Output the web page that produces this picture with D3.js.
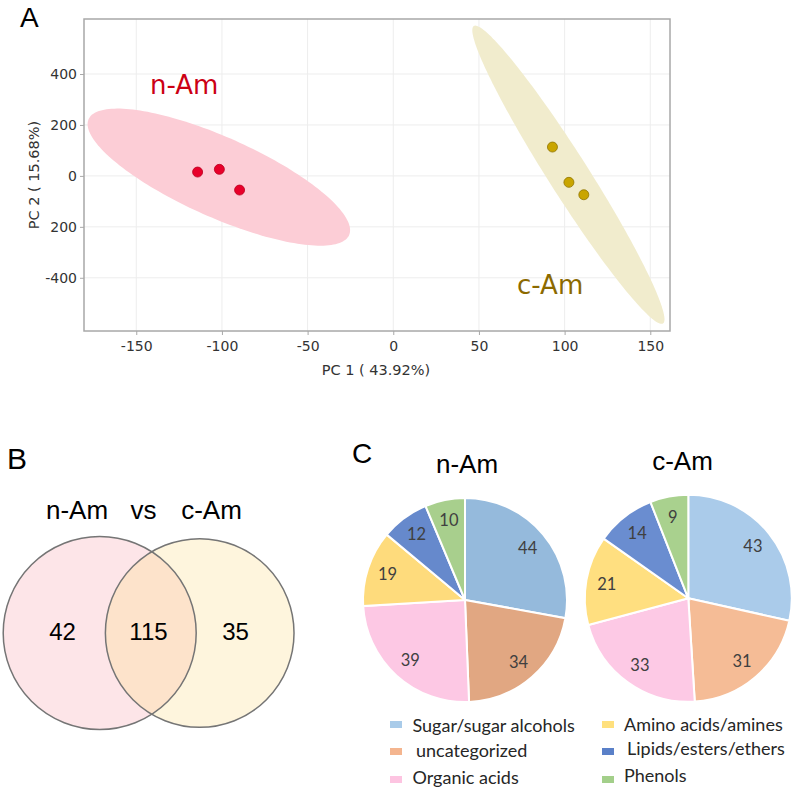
<!DOCTYPE html>
<html>
<head>
<meta charset="utf-8">
<script src="https://cdn.jsdelivr.net/npm/d3@7"></script>
<style>
  body { margin: 0; background: #fff; }
  text { white-space: pre; }
</style>
</head>
<body>
<svg id="drawing_region"></svg>
<script>
// ---- panel A: PCA scores ----
const groups = ['n-Am', 'c-Am'];
const pc1 = [[-114.2, -101.5, -89.7], [92.9, 102.5, 111.2]];
const pc2 = [[15.1, 25.7, -55.6], [113.3, -25.3, -74.0]];
// confidence ellipses: centre and two conjugate half axes (data units)
const ellCenter = [[-101.8, -4.9], [102.2, 4.5]];
const ellAxisA = [[76.0, -227.8], [55.2, -584.0]];
const ellAxisB = [[-9.5, -143.4], [-9.9, -42.0]];
const xTicks = [-150, -100, -50, 0, 50, 100, 150];
const yTicks = [-400, -200, 0, 200, 400];
const yTickLabels = ['-400', '200', '0', '200', '400'];

// ---- panel B: venn ----
const vennSets = ['n-Am', 'c-Am'];
const vennTotals = [157, 150];
const vennCounts = [42, 115, 35];

// ---- panel C: pies ----
const categories = ['Sugar/sugar alcohols', 'uncategorized', 'Organic acids',
                    'Amino acids/amines', 'Lipids/esters/ethers', 'Phenols'];
const nAmCounts = [44, 34, 39, 19, 12, 10];
const cAmCounts = [43, 31, 33, 21, 14, 9];

const width = 794;
const height = 794;

const svg = d3.select('#drawing_region')
    .attr('width', width)
    .attr('height', height);

// ================= A =================
const box = { left: 84, right: 670, top: 19, bottom: 331 };

const xscale = d3.scaleLinear()
    .domain([-180.5, 161.5])
    .range([box.left, box.right]);

const yscale = d3.scaleLinear()
    .domain([-609, 616])
    .range([box.bottom, box.top]);

const gA = svg.append('g');

// grid
gA.selectAll('.vgrid')
    .data(xTicks)
    .enter()
    .append('line')
    .attr('x1', d => xscale(d)).attr('x2', d => xscale(d))
    .attr('y1', box.top).attr('y2', box.bottom)
    .attr('stroke', '#ededed');

gA.selectAll('.hgrid')
    .data(yTicks)
    .enter()
    .append('line')
    .attr('x1', box.left).attr('x2', box.right)
    .attr('y1', d => yscale(d)).attr('y2', d => yscale(d))
    .attr('stroke', '#ededed');

// ellipses
const ellColors = ['#fccdd6', '#f1eccd'];
const ellLine = d3.line()
    .x(d => xscale(d[0]))
    .y(d => yscale(d[1]))
    .curve(d3.curveLinearClosed);

groups.forEach((g, i) => {
    const pts = d3.range(0, 360, 2).map(a => {
        const t = a * Math.PI / 180;
        return [
            ellCenter[i][0] + Math.cos(t) * ellAxisA[i][0] + Math.sin(t) * ellAxisB[i][0],
            ellCenter[i][1] + Math.cos(t) * ellAxisA[i][1] + Math.sin(t) * ellAxisB[i][1]
        ];
    });
    gA.append('path')
        .attr('d', ellLine(pts))
        .attr('fill', ellColors[i]);
});

// points
const ptFill = ['#e8002a', '#c9a500'];
const ptStroke = ['#b8001f', '#8f7500'];
groups.forEach((g, i) => {
    gA.selectAll('.pt' + i)
        .data(pc1[i].map((x, j) => [x, pc2[i][j]]))
        .enter()
        .append('circle')
        .attr('cx', d => xscale(d[0]))
        .attr('cy', d => yscale(d[1]))
        .attr('r', 5)
        .attr('fill', ptFill[i])
        .attr('stroke', ptStroke[i])
        .attr('stroke-width', 0.8);
});

// frame
gA.append('rect')
    .attr('x', box.left).attr('y', box.top)
    .attr('width', box.right - box.left)
    .attr('height', box.bottom - box.top)
    .attr('fill', 'none')
    .attr('stroke', '#a8a8a8')
    .attr('stroke-width', 1.5);

// axes
const xaxis = gA.append('g')
    .attr('transform', `translate(0, ${box.bottom})`)
    .call(d3.axisBottom(xscale).tickValues(xTicks)
        .tickFormat(d => String(d)).tickSize(4).tickPadding(6));

const yaxis = gA.append('g')
    .attr('transform', `translate(${box.left}, 0)`)
    .call(d3.axisLeft(yscale).tickValues(yTicks)
        .tickFormat((d, i) => yTickLabels[i]).tickSize(4).tickPadding(3));

[xaxis, yaxis].forEach(ax => {
    ax.select('.domain').remove();
    ax.selectAll('line').attr('stroke', '#a8a8a8');
    ax.selectAll('text')
        .attr('fill', '#333')
        .attr('font-family', 'DejaVu Sans')
        .attr('font-size', '14px');
});

gA.append('text')
    .attr('x', 376).attr('y', 375)
    .attr('text-anchor', 'middle')
    .attr('font-family', 'DejaVu Sans')
    .attr('font-size', '14.5px')
    .attr('fill', '#333')
    .text('PC 1 ( 43.92%)');

gA.append('text')
    .attr('transform', 'translate(39, 175) rotate(-90)')
    .attr('text-anchor', 'middle')
    .attr('font-family', 'DejaVu Sans')
    .attr('font-size', '14.5px')
    .attr('fill', '#333')
    .text('PC 2 ( 15.68%)');

gA.append('text')
    .attr('x', 150).attr('y', 94)
    .attr('font-family', 'DejaVu Sans')
    .attr('font-size', '26px')
    .attr('fill', '#cc0014')
    .text(groups[0]);

gA.append('text')
    .attr('x', 517).attr('y', 294)
    .attr('font-family', 'DejaVu Sans')
    .attr('font-size', '26px')
    .attr('fill', '#8c6a00')
    .text(groups[1]);

// panel letters
const letters = [['A', 20, 27, 28], ['B', 7, 469, 30], ['C', 352, 463, 28]];
svg.selectAll('.letter')
    .data(letters)
    .enter()
    .append('text')
    .attr('x', d => d[1]).attr('y', d => d[2])
    .attr('font-family', 'Liberation Sans')
    .attr('font-size', d => d[3] + 'px')
    .attr('fill', '#000')
    .text(d => d[0]);

// ================= B =================
const rscale = d3.scaleSqrt()
    .domain([0, d3.max(vennTotals)])
    .range([0, 96.5]);

const vennCy = 633;
const vennCx = [99.7, 199.7];
const vennFill = ['#fde5e8', '#fef5dd'];

const gB = svg.append('g');
const defs = svg.append('defs');
defs.append('clipPath')
    .attr('id', 'clipLeft')
    .append('circle')
    .attr('cx', vennCx[0]).attr('cy', vennCy)
    .attr('r', rscale(vennTotals[0]));

vennSets.forEach((s, i) => {
    gB.append('circle')
        .attr('cx', vennCx[i]).attr('cy', vennCy)
        .attr('r', rscale(vennTotals[i]))
        .attr('fill', vennFill[i]);
});
gB.append('circle')
    .attr('cx', vennCx[1]).attr('cy', vennCy)
    .attr('r', rscale(vennTotals[1]))
    .attr('clip-path', 'url(#clipLeft)')
    .attr('fill', '#fde3cb');
vennSets.forEach((s, i) => {
    gB.append('circle')
        .attr('cx', vennCx[i]).attr('cy', vennCy)
        .attr('r', rscale(vennTotals[i]))
        .attr('fill', 'none')
        .attr('stroke', '#757575')
        .attr('stroke-width', 1.5);
});

const vennNumX = [62.5, 148.5, 235.5];
gB.selectAll('.vnum')
    .data(vennCounts)
    .enter()
    .append('text')
    .attr('x', (d, i) => vennNumX[i])
    .attr('y', 640)
    .attr('text-anchor', 'middle')
    .attr('font-family', 'Liberation Sans')
    .attr('font-size', '24px')
    .attr('fill', '#000')
    .text(d => d);

const vennTitle = [vennSets[0], 'vs', vennSets[1]];
const vennTitleX = [77, 143.5, 211.5];
gB.selectAll('.vtitle')
    .data(vennTitle)
    .enter()
    .append('text')
    .attr('x', (d, i) => vennTitleX[i])
    .attr('y', 519)
    .attr('text-anchor', 'middle')
    .attr('font-family', 'Liberation Sans')
    .attr('font-size', '26px')
    .attr('fill', '#000')
    .text(d => d);

// ================= C =================
const pieColors = [
    ['#95badc', '#e1a782', '#fdc8e4', '#fedb7c', '#6689cc', '#a8cf8d'],
    ['#aacbea', '#f5bc96', '#fdc9e5', '#ffdf80', '#6a8dd0', '#a9d18e']
];
const legendColors = ['#a9cbe9', '#f4b58f', '#fdc4e1', '#ffe07d', '#5a80c8', '#a3cf8a'];
const pieData = [nAmCounts, cAmCounts];
const pieCenter = [[465, 600], [688.3, 598.3]];
const pieR = [102, 103.5];
const pieTitleX = [467, 682.5];
const pieTitleY = [473, 470];

const pie = d3.pie().sort(null).value(d => d);

pieData.forEach((vals, k) => {
    const g = svg.append('g')
        .attr('transform', `translate(${pieCenter[k][0]}, ${pieCenter[k][1]})`);
    const arc = d3.arc().innerRadius(0).outerRadius(pieR[k]);
    const labelArc = d3.arc().innerRadius(pieR[k] * 0.8).outerRadius(pieR[k] * 0.8);
    const arcs = pie(vals);

    g.selectAll('path')
        .data(arcs)
        .enter()
        .append('path')
        .attr('d', arc)
        .attr('fill', (d, i) => pieColors[k][i])
        .attr('stroke', '#fff')
        .attr('stroke-width', 2);

    g.selectAll('text')
        .data(arcs)
        .enter()
        .append('text')
        .attr('transform', d => `translate(${labelArc.centroid(d)})`)
        .attr('text-anchor', 'middle')
        .attr('dy', '0.36em')
        .attr('font-family', 'Lato')
        .attr('font-size', '16.5px')
        .attr('fill', '#404040')
        .text(d => d.data);

    svg.append('text')
        .attr('x', pieTitleX[k]).attr('y', pieTitleY[k])
        .attr('text-anchor', 'middle')
        .attr('font-family', 'Liberation Sans')
        .attr('font-size', '26px')
        .attr('fill', '#000')
        .text(groups[k]);
});

// legend
const legX = [390, 390, 390, 602, 602, 602];
const legTextX = [412.5, 416, 412.5, 624, 627, 624];
const legY = [721, 748, 776, 721, 748, 776];
const legBase = [731.5, 756.5, 784, 730.5, 755, 782];

const leg = svg.append('g');
leg.selectAll('rect')
    .data(categories)
    .enter()
    .append('rect')
    .attr('x', (d, i) => legX[i])
    .attr('y', (d, i) => legY[i])
    .attr('width', 12)
    .attr('height', 7)
    .attr('fill', (d, i) => legendColors[i]);

leg.selectAll('text')
    .data(categories)
    .enter()
    .append('text')
    .attr('x', (d, i) => legTextX[i])
    .attr('y', (d, i) => legBase[i])
    .attr('font-family', 'Lato')
    .attr('font-size', '18px')
    .attr('fill', '#262626')
    .text(d => d);
</script>
</body>
</html>
